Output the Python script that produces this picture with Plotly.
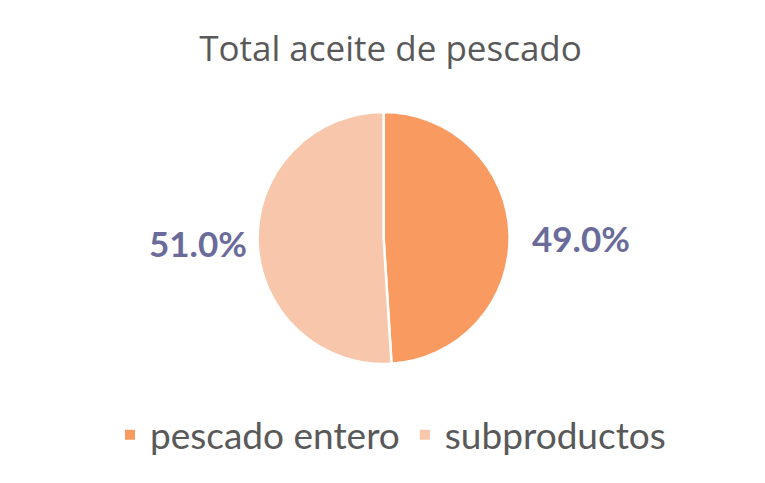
import plotly.graph_objects as go

labels = ["pescado entero", "subproductos"]
values = [49.0, 51.0]
colors = ["#F99B60", "#F8C6AA"]

total = sum(values)
pcts = [v / total * 100 for v in values]

fig = go.Figure(go.Pie(
    labels=labels, values=values, sort=False, direction="clockwise", rotation=0,
    marker=dict(colors=colors, line=dict(color="white", width=2.5)),
    textinfo="none", hoverinfo="label+percent",
    domain=dict(x=[0, 0.982], y=[0, 1]),
))
fig.update_layout(
    width=765, height=483,
    margin=dict(l=0, r=0, t=104, b=127),
    paper_bgcolor="white",
    title=dict(text="Total aceite de pescado", x=0.5, xanchor="center", y=0.915, yanchor="middle",
               font=dict(family="Open Sans", size=35, color="#595959")),
    legend=dict(orientation="h", x=0.5, xanchor="center", y=-0.16, yanchor="top",
                font=dict(family="Lato", size=37, color="#595959"), itemwidth=30,
                itemsizing="constant", tracegroupgap=40),
    showlegend=True,
    annotations=[
        dict(text="<b>%.1f%%</b>" % pcts[0], x=0.683, y=0.5, xref="paper", yref="paper",
             xanchor="left", showarrow=False, font=dict(family="Lato", size=35, color="#6B6B9B")),
        dict(text="<b>%.1f%%</b>" % pcts[1], x=0.315, y=0.48, xref="paper", yref="paper",
             xanchor="right", showarrow=False, font=dict(family="Lato", size=35, color="#6B6B9B")),
    ],
)
fig.write_html("out.html")
